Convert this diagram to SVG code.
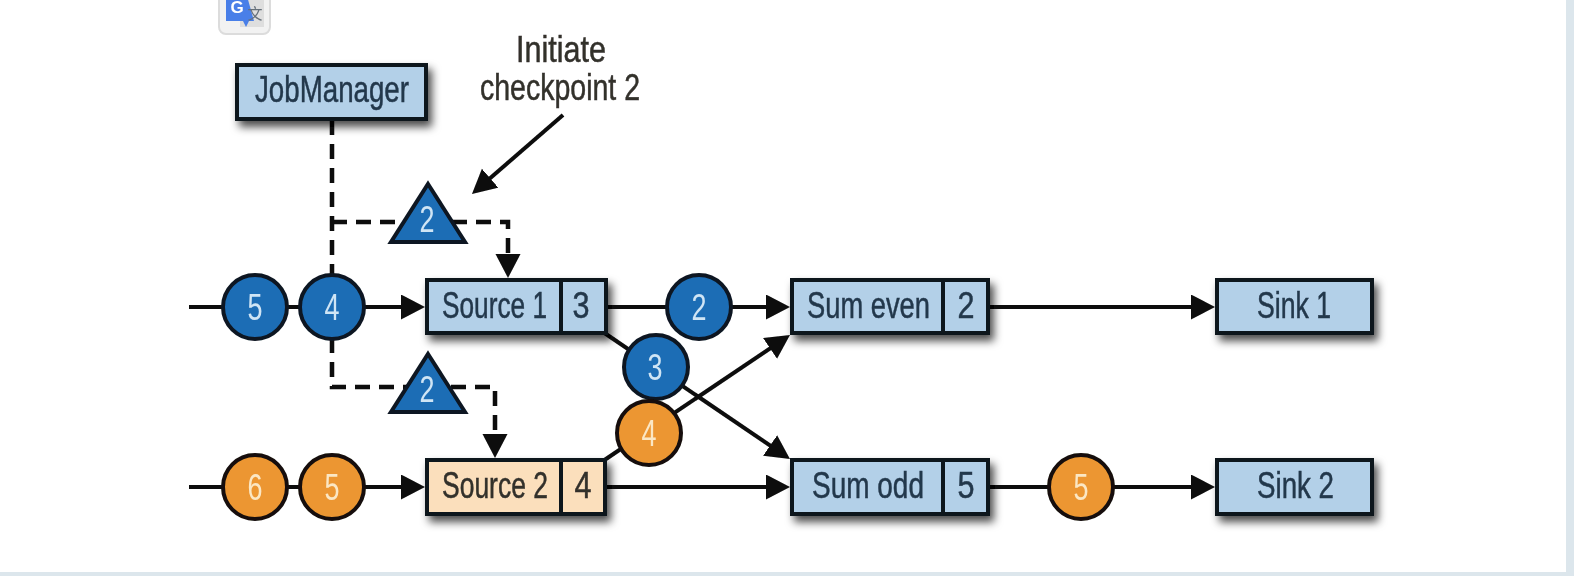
<svg xmlns="http://www.w3.org/2000/svg" width="1574" height="576" viewBox="0 0 1574 576">
  <defs>
    <filter id="shadow" x="-15%" y="-30%" width="140%" height="190%">
      <feDropShadow dx="4" dy="6" stdDeviation="4" flood-color="#000" flood-opacity="0.7"/>
    </filter>
    <filter id="soft" x="0" y="0" width="1574" height="576" filterUnits="userSpaceOnUse">
      <feGaussianBlur stdDeviation="0.6"/>
    </filter>
    <marker id="head" markerUnits="userSpaceOnUse" markerWidth="26" markerHeight="26" refX="18" refY="12.5" orient="auto">
      <path d="M0 0 L24 12.5 L0 25 Z" fill="#0a0a0a"/>
    </marker>
  </defs>
  <style>
    text { font-family: "Liberation Sans Narrow", "Liberation Sans", sans-serif; font-size: 36px; stroke-width: 0.5px; }
    .box { fill: #b3d0e8; stroke: #0f151b; stroke-width: 4; }
    .peach { fill: #fbdfbc; }
    .div { stroke: #0f151b; stroke-width: 4; }
    .lbl { fill: #24384c; stroke: #24384c; }
    .lbl2 { fill: #33302c; stroke: #33302c; }
    .mid { text-anchor: middle; }
    .blue { fill: #1f6db5; stroke: #0c1722; stroke-width: 4; }
    .orange { fill: #ec9633; stroke: #15100a; stroke-width: 4; }
    .onblue { fill: #cfe5f5; text-anchor: middle; stroke-width: 0; }
    .onorange { fill: #fbe7c4; text-anchor: middle; stroke-width: 0; }
    .flow { fill: none; stroke: #0a0a0a; stroke-width: 4; }
    .dash { fill: none; stroke: #0a0a0a; stroke-width: 4.5; stroke-dasharray: 15 9; }
  </style>
  <rect width="1574" height="576" fill="#fff"/>
  <g id="page-edge" fill="#dce6ec">
    <rect x="1566" y="0" width="8" height="576"/>
    <rect x="0" y="572" width="1574" height="4"/>
  </g>
  <g filter="url(#soft)">
    <g id="translate-icon">
      <rect x="219" y="-12" width="51" height="46" rx="7" fill="#f2f2f2" stroke="#dcdcdc" stroke-width="2"/>
      <rect x="240" y="-4" width="24" height="31" fill="#dedede"/>
      <path d="M226 -4 H247 L254 21 H249 L246 27 L243 21 H226 Z" fill="#4a7fe8"/>
      <text x="237" y="13" class="mid" style="font-family:'Liberation Sans',sans-serif;font-size:17px;font-weight:bold;stroke-width:0" fill="#fff">G</text>
      <text x="255" y="19" class="mid" style="font-family:'Noto Sans CJK SC',sans-serif;font-size:15px;stroke-width:0" fill="#66707a">文</text>
    </g>
    <g id="connectors">
      <path class="dash" d="M332 120 V278"/>
      <path class="dash" d="M332 222 H508 V272" marker-end="url(#head)"/>
      <path class="dash" d="M332 338 V387 H495 V452" marker-end="url(#head)"/>
      <path class="flow" d="M563 115 L476.5 190" marker-end="url(#head)"/>
      <path class="flow" d="M189 307 H419" marker-end="url(#head)"/>
      <path class="flow" d="M189 487 H419" marker-end="url(#head)"/>
      <path class="flow" d="M607 307 H784" marker-end="url(#head)"/>
      <path class="flow" d="M607 487 H784" marker-end="url(#head)"/>
      <path class="flow" d="M989 307 H1209" marker-end="url(#head)"/>
      <path class="flow" d="M989 487 H1209" marker-end="url(#head)"/>
      <path class="flow" d="M603 332 L785 455.6" marker-end="url(#head)"/>
      <path class="flow" d="M603 461 L785 338.4" marker-end="url(#head)"/>
    </g>
    <g id="jobmanager">
      <rect class="box" x="237" y="65" width="189" height="54" filter="url(#shadow)"/>
      <text class="lbl" x="255" y="102" textLength="154" lengthAdjust="spacingAndGlyphs">JobManager</text>
    </g>
    <g id="initiate-label">
      <text class="lbl2" x="516" y="62" textLength="90" lengthAdjust="spacingAndGlyphs">Initiate</text>
      <text class="lbl2" x="480" y="100" textLength="160" lengthAdjust="spacingAndGlyphs">checkpoint 2</text>
    </g>
    <g id="barrier-top">
      <path class="blue" d="M428 184 L465 242 H391 Z"/>
      <text class="onblue" x="427" y="232" textLength="15" lengthAdjust="spacingAndGlyphs">2</text>
    </g>
    <g id="barrier-bottom">
      <path class="blue" d="M428 354 L465 412 H391 Z"/>
      <text class="onblue" x="427" y="402" textLength="15" lengthAdjust="spacingAndGlyphs">2</text>
    </g>
    <g id="source1">
      <rect class="box" x="427" y="280" width="179" height="53" filter="url(#shadow)"/>
      <line class="div" x1="561" y1="280" x2="561" y2="333"/>
      <text class="lbl" x="442" y="318" textLength="105" lengthAdjust="spacingAndGlyphs">Source 1</text>
      <text class="lbl mid" x="581" y="318" textLength="17" lengthAdjust="spacingAndGlyphs">3</text>
    </g>
    <g id="source2">
      <rect class="box peach" x="427" y="460" width="178" height="54" filter="url(#shadow)"/>
      <line class="div" x1="561" y1="460" x2="561" y2="514"/>
      <text class="lbl2" x="442" y="498" textLength="106" lengthAdjust="spacingAndGlyphs">Source 2</text>
      <text class="lbl2 mid" x="583" y="498" textLength="17" lengthAdjust="spacingAndGlyphs">4</text>
    </g>
    <g id="sum-even">
      <rect class="box" x="792" y="280" width="196" height="53" filter="url(#shadow)"/>
      <line class="div" x1="943" y1="280" x2="943" y2="333"/>
      <text class="lbl" x="807" y="318" textLength="123" lengthAdjust="spacingAndGlyphs">Sum even</text>
      <text class="lbl mid" x="966" y="318" textLength="17" lengthAdjust="spacingAndGlyphs">2</text>
    </g>
    <g id="sum-odd">
      <rect class="box" x="792" y="460" width="196" height="54" filter="url(#shadow)"/>
      <line class="div" x1="943" y1="460" x2="943" y2="514"/>
      <text class="lbl" x="812" y="498" textLength="112" lengthAdjust="spacingAndGlyphs">Sum odd</text>
      <text class="lbl mid" x="966" y="498" textLength="17" lengthAdjust="spacingAndGlyphs">5</text>
    </g>
    <g id="sink1">
      <rect class="box" x="1217" y="280" width="155" height="53" filter="url(#shadow)"/>
      <text class="lbl" x="1257" y="318" textLength="74" lengthAdjust="spacingAndGlyphs">Sink 1</text>
    </g>
    <g id="sink2">
      <rect class="box" x="1217" y="460" width="155" height="54" filter="url(#shadow)"/>
      <text class="lbl" x="1257" y="498" textLength="77" lengthAdjust="spacingAndGlyphs">Sink 2</text>
    </g>
    <g id="event-blue-5"><circle class="blue" cx="255" cy="307" r="32"/><text class="onblue" x="255" y="320" textLength="15" lengthAdjust="spacingAndGlyphs">5</text></g>
    <g id="event-blue-4"><circle class="blue" cx="332" cy="307" r="32"/><text class="onblue" x="332" y="320" textLength="15" lengthAdjust="spacingAndGlyphs">4</text></g>
    <g id="event-orange-6"><circle class="orange" cx="255" cy="487" r="32"/><text class="onorange" x="255" y="500" textLength="15" lengthAdjust="spacingAndGlyphs">6</text></g>
    <g id="event-orange-5"><circle class="orange" cx="332" cy="487" r="32"/><text class="onorange" x="332" y="500" textLength="15" lengthAdjust="spacingAndGlyphs">5</text></g>
    <g id="event-blue-2"><circle class="blue" cx="699" cy="307" r="32"/><text class="onblue" x="699" y="320" textLength="15" lengthAdjust="spacingAndGlyphs">2</text></g>
    <g id="event-blue-3"><circle class="blue" cx="656" cy="367" r="32"/><text class="onblue" x="655" y="380" textLength="15" lengthAdjust="spacingAndGlyphs">3</text></g>
    <g id="event-orange-4"><circle class="orange" cx="649" cy="433" r="32"/><text class="onorange" x="649" y="446" textLength="15" lengthAdjust="spacingAndGlyphs">4</text></g>
    <g id="event-orange-5b"><circle class="orange" cx="1081" cy="487" r="32"/><text class="onorange" x="1081" y="500" textLength="15" lengthAdjust="spacingAndGlyphs">5</text></g>
  </g>
</svg>
